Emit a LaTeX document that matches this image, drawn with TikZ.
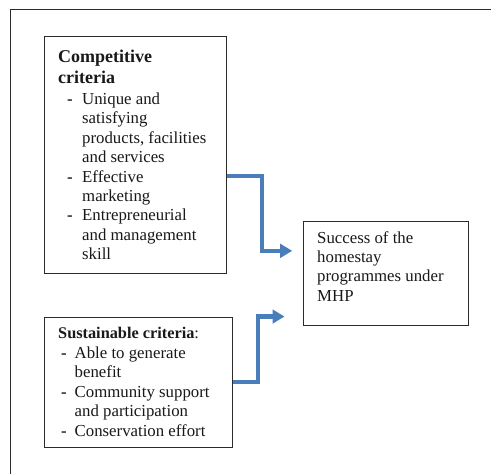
\documentclass[tikz,border=0pt]{standalone}
\usepackage{fontspec}
\setmainfont{Liberation Serif}
\usetikzlibrary{arrows.meta}
\definecolor{flowblue}{HTML}{4A7EBB}
\definecolor{boxgray}{HTML}{2B2B2B}
\tikzset{
  box/.style={draw=boxgray, line width=1.2pt, inner sep=0pt, anchor=north west},
  txt/.style={inner sep=0pt, anchor=base west, text=black!90},
  flow/.style={draw=flowblue, line width=4.3pt, -{Triangle[length=12pt,width=13.5pt]}},
  frame/.style={draw=boxgray, line width=1pt}
}
\newcommand{\dsh}[1]{\makebox[#1][l]{\textbf{-}}}
\begin{document}
\begin{tikzpicture}[x=1pt,y=-1pt]
\useasboundingbox (0,0) rectangle (491,474);
\fill[white] (0,0) rectangle (491,474);
\draw[frame] (10,474) -- (10,9) -- (491,9);
% boxes
\node[box, minimum width=182pt, minimum height=237.5pt] (c1) at (44,35.5) {};
\node[box, minimum width=187.5pt, minimum height=130pt] (c2) at (44,317) {};
\node[box, minimum width=165.5pt, minimum height=103.5pt] (s) at (302.5,221) {};
% texts
\node[txt] (c1h) at (58,62) {\fontsize{18}{21}\selectfont\bfseries
  \begin{tabular}[t]{@{}l@{}}Competitive\\criteria\end{tabular}};
\node[txt] (c1l) at (67,104.5) {\fontsize{16.8}{19.4}\selectfont
  \begin{tabular}[t]{@{}l@{}l@{}}
  \dsh{15pt} & Unique and\\
   & satisfying\\
   & products, facilities\\
   & and services\\
  \dsh{15pt} & Effective\\
   & marketing\\
  \dsh{15pt} & Entrepreneurial\\
   & and management\\
   & skill
  \end{tabular}};
\node[txt] (c2h) at (58,338) {\fontsize{16.3}{19}\selectfont\textbf{Sustainable criteria}:};
\node[txt] (c2l) at (61,358.5) {\fontsize{16.8}{19.4}\selectfont
  \begin{tabular}[t]{@{}l@{}l@{}}
  \dsh{13.5pt} & Able to generate\\
   & benefit\\
  \dsh{13.5pt} & Community support\\
   & and participation\\
  \dsh{13.5pt} & Conservation effort
  \end{tabular}};
\node[txt] (st) at (317,243) {\fontsize{16.8}{19.4}\selectfont
  \begin{tabular}[t]{@{}l@{}}
  Success of the\\
  homestay\\
  programmes under\\
  MHP
  \end{tabular}};
% connectors
\draw[flow] ([yshift=-21pt]c1.east) -- ++(34.7,0) |- ([shift={(-10.3pt,22.5pt)}]s.west);
\draw[flow] ([yshift=0.3pt]c2.east) -- ++(25.2,0) |- ([shift={(-18pt,-43.2pt)}]s.west);
\end{tikzpicture}
\end{document}
